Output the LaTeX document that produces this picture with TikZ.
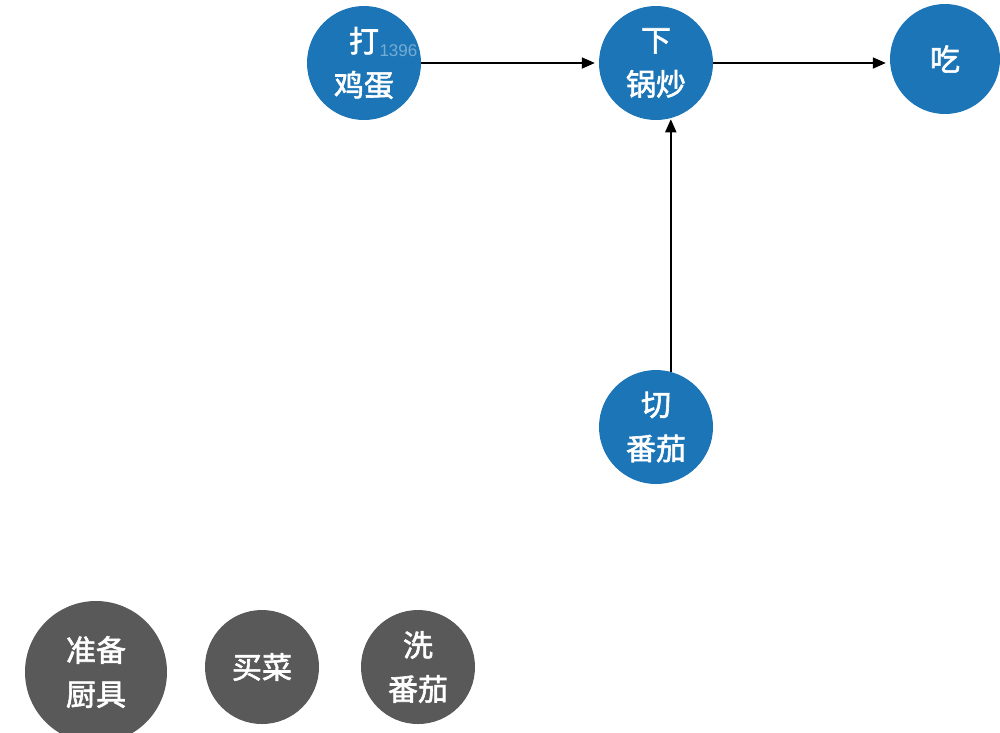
\documentclass[tikz,border=0pt]{standalone}
\usepackage{fontspec}
\newfontfamily\cjk{Noto Sans CJK SC}[BoldFont={Noto Sans CJK SC},BoldFeatures={FakeBold=2}]
\setsansfont{Liberation Sans}
\usetikzlibrary{arrows.meta}
\definecolor{stepblue}{HTML}{1B75B6}
\definecolor{stepgray}{HTML}{595959}
\tikzset{
  x=1pt, y=-1pt,
  bluecirc/.style={circle, fill=stepblue, minimum size=114pt, inner sep=0pt, text=white,
    font=\cjk\bfseries\fontsize{30}{44}\selectfont, align=center},
  graycirc/.style={circle, fill=stepgray, minimum size=114pt, inner sep=0pt, text=white,
    font=\cjk\bfseries\fontsize{30}{44}\selectfont, align=center},
  flow/.style={draw=black, line width=1.8pt, shorten >=4pt, -{Triangle[length=13pt,width=11pt]}}
}
\begin{document}
\begin{tikzpicture}
\useasboundingbox (0,0) rectangle (1000,732);
\node[bluecirc] (da) at (364,63) {打\\鸡蛋};
\node[bluecirc] (xia) at (656,63) {下\\锅炒};
\node[bluecirc, minimum size=110pt] (chi) at (945,59) {吃};
\node[bluecirc] (qie) at (656,427) {切\\番茄};
\node[graycirc, minimum size=142pt] (zhun) at (96,672) {准备\\厨具};
\node[graycirc] (mai) at (262,667) {买菜};
\node[graycirc] (xi) at (418,667) {洗\\番茄};
\begin{scope}
\clip (364,63) circle (57);
\node[text=white, opacity=0.4, font=\sffamily\fontsize{17}{17}\selectfont, anchor=west] (wm) at (376,51) {1396};
\end{scope}
\draw[flow] (da) -- (xia);
\draw[flow] (xia.east) -- (xia.east -| chi.west);
\draw[flow, shorten >=1pt] (qie.75) -- (xia.-75);
\end{tikzpicture}
\end{document}
